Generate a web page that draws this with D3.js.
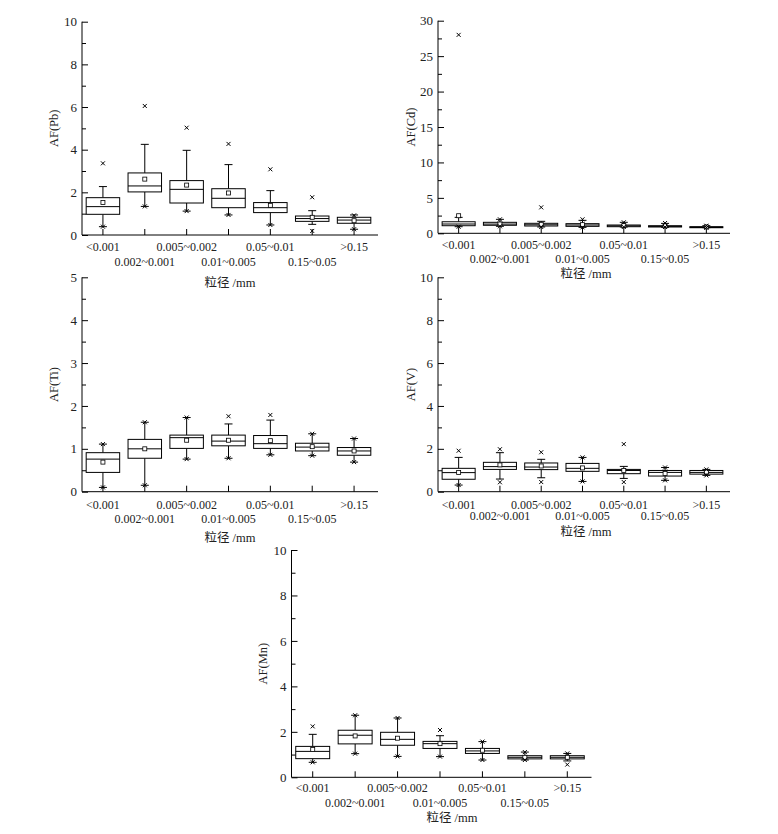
<!DOCTYPE html>
<html>
<head>
<meta charset="utf-8">
<script src="https://cdn.jsdelivr.net/npm/d3@7/dist/d3.min.js"></script>
<style>
  body { margin: 0; background: #fff; }
  svg text { font-family: "Liberation Serif", "Noto Sans CJK SC", serif; fill: #222; }
</style>
</head>
<body>
<div id="chart"></div>
<script>
// size classes on the x axis
var categories = ["<0.001", "0.002~0.001", "0.005~0.002", "0.01~0.005", "0.05~0.01", "0.15~0.05", ">0.15"];
var xTitle = "粒径 /mm";

// box stats per class: [lower whisker, Q1, median, Q3, upper whisker]
var pbStats = [[0.39, 0.97, 1.33, 1.75, 2.27], [1.34, 2.02, 2.30, 2.91, 4.25], [1.12, 1.50, 2.14, 2.55, 3.97],
               [0.94, 1.28, 1.72, 2.17, 3.30], [0.47, 1.05, 1.28, 1.52, 2.08], [0.50, 0.64, 0.77, 0.89, 1.14],
               [0.27, 0.55, 0.70, 0.83, 0.94]];
var pbMean = [1.52, 2.62, 2.34, 1.97, 1.39, 0.83, 0.67];
var pbMarks = [[3.36, 0.39], [6.05, 1.34], [5.03, 1.12], [4.27, 0.94], [3.08, 0.47], [1.77, 0.19], [0.92, 0.27]];

var cdStats = [[0.93, 1.07, 1.31, 1.63, 2.25], [0.99, 1.13, 1.30, 1.55, 1.97], [0.89, 1.03, 1.20, 1.41, 1.69],
               [0.84, 0.98, 1.17, 1.36, 1.83], [0.89, 0.93, 1.05, 1.17, 1.55], [0.85, 0.89, 0.98, 1.07, 1.40],
               [0.79, 0.80, 0.87, 0.93, 1.07]];
var cdMean = [2.48, 1.31, 1.27, 1.22, 1.08, 1.05, 0.90];
var cdMarks = [[28.0, 0.93], [1.97, 0.99], [3.66, 0.89], [1.97, 0.84], [1.55, 0.89], [1.45, 0.89], [1.07, 0.79]];

var tiStats = [[0.10, 0.45, 0.76, 0.91, 1.11], [0.15, 0.78, 1.00, 1.22, 1.62], [0.76, 1.01, 1.26, 1.32, 1.73],
               [0.78, 1.07, 1.18, 1.32, 1.58], [0.86, 1.01, 1.12, 1.31, 1.67], [0.84, 0.95, 1.04, 1.13, 1.35],
               [0.69, 0.85, 0.95, 1.03, 1.24]];
var tiMean = [0.69, 1.00, 1.20, 1.20, 1.19, 1.05, 0.95];
var tiMarks = [[1.11, 0.10], [1.62, 0.15], [1.73, 0.76], [1.76, 0.78], [1.79, 0.86], [1.35, 0.84], [1.24, 0.69]];

var vStats = [[0.31, 0.58, 0.89, 1.09, 1.60], [0.59, 1.04, 1.17, 1.37, 1.82], [0.65, 1.03, 1.15, 1.34, 1.51],
              [0.48, 0.95, 1.09, 1.32, 1.60], [0.62, 0.84, 0.99, 1.04, 1.18], [0.53, 0.73, 0.90, 0.99, 1.13],
              [0.76, 0.82, 0.90, 0.99, 1.04]];
var vMean = [0.90, 1.25, 1.20, 1.11, 0.99, 0.85, 0.92];
var vMarks = [[1.91, 0.31], [1.98, 0.44], [1.84, 0.45], [1.60, 0.48], [2.22, 0.45], [1.13, 0.53], [1.04, 0.76]];

var mnStats = [[0.66, 0.82, 1.14, 1.36, 1.89], [1.04, 1.47, 1.85, 2.07, 2.73], [0.92, 1.41, 1.67, 1.98, 2.61],
               [0.91, 1.27, 1.48, 1.58, 1.83], [0.76, 1.05, 1.16, 1.27, 1.57], [0.76, 0.81, 0.88, 0.95, 1.11],
               [0.72, 0.81, 0.88, 0.95, 1.05]];
var mnMean = [1.22, 1.82, 1.72, 1.48, 1.19, 0.88, 0.88];
var mnMarks = [[2.24, 0.66], [2.73, 1.04], [2.61, 0.92], [2.08, 0.91], [1.57, 0.76], [1.11, 0.76], [1.05, 0.56]];

var svg = d3.select("#chart").append("svg")
    .attr("width", 778)
    .attr("height", 834);

// one panel of box plots
function drawPanel(p) {
  var x = d3.scaleBand().domain(categories).range([p.left, p.right]);
  var y = d3.scaleLinear().domain([0, p.yMax]).range([p.bottom, p.top]);
  var g = svg.append("g");
  var bw = x.bandwidth() * 0.8;

  // y axis, major and minor ticks pointing inward
  var yAxis = d3.axisLeft(y).tickValues(d3.range(0, p.yMax + 0.001, p.major))
      .tickSize(-6).tickPadding(5).tickFormat(d3.format("d"));
  g.append("g").attr("transform", "translate(" + p.left + ",0)").call(yAxis)
    .call(function(a){
      a.select(".domain").remove();
      a.selectAll("text").style("font-size", "13px").style("font-family", "Liberation Serif");
    });
  var minors = d3.range(p.major / 2, p.yMax, p.major);
  g.append("g").attr("transform", "translate(" + p.left + ",0)")
    .call(d3.axisLeft(y).tickValues(minors).tickSize(-4).tickFormat(""))
    .select(".domain").remove();

  // x axis ticks at the class centres
  g.append("g").attr("transform", "translate(0," + p.bottom + ")")
    .call(d3.axisBottom(x).tickSize(-6).tickFormat(""))
    .select(".domain").remove();

  g.append("line").attr("x1", p.left).attr("x2", p.left)
    .attr("y1", y(0)).attr("y2", y(p.yMax)).attr("stroke", "#000");
  g.append("line").attr("x1", p.left).attr("x2", p.right + 3)
    .attr("y1", p.bottom).attr("y2", p.bottom).attr("stroke", "#000");
  g.selectAll(".tick line").attr("stroke", "#000");

  // class labels in two staggered rows
  g.selectAll(".clabel").data(categories).enter().append("text")
    .attr("x", function(d){ return x(d) + x.bandwidth() / 2; })
    .attr("y", function(d, i){ return i % 2 == 0 ? p.row1 : p.row2; })
    .attr("text-anchor", "middle")
    .style("font-size", "12px")
    .text(function(d){ return d; });

  g.append("text").attr("x", p.titleX).attr("y", p.titleY)
    .attr("text-anchor", "middle").style("font-size", "12.5px").text(xTitle);

  g.append("text")
    .attr("transform", "translate(" + p.labelX + "," + (p.top + p.bottom) / 2 + ") rotate(-90)")
    .attr("text-anchor", "middle").style("font-size", "12.5px").text(p.yLabel);

  var boxes = g.selectAll(".box").data(p.stats).enter().append("g")
    .attr("transform", function(d, i){ return "translate(" + (x(categories[i]) + x.bandwidth() / 2) + ",0)"; });

  // whiskers
  boxes.append("line").attr("x1", 0).attr("x2", 0)
    .attr("y1", function(d){ return y(d[0]); }).attr("y2", function(d){ return y(d[1]); })
    .attr("stroke", "#000");
  boxes.append("line").attr("x1", 0).attr("x2", 0)
    .attr("y1", function(d){ return y(d[3]); }).attr("y2", function(d){ return y(d[4]); })
    .attr("stroke", "#000");
  boxes.append("line").attr("x1", -4).attr("x2", 4)
    .attr("y1", function(d){ return y(d[0]); }).attr("y2", function(d){ return y(d[0]); })
    .attr("stroke", "#000");
  boxes.append("line").attr("x1", -4).attr("x2", 4)
    .attr("y1", function(d){ return y(d[4]); }).attr("y2", function(d){ return y(d[4]); })
    .attr("stroke", "#000");

  boxes.append("rect")
    .attr("x", -bw / 2).attr("width", bw)
    .attr("y", function(d){ return y(d[3]); })
    .attr("height", function(d){ return Math.max(y(d[1]) - y(d[3]), 1); })
    .attr("fill", "#fff").attr("stroke", "#000");
  boxes.append("line").attr("x1", -bw / 2).attr("x2", bw / 2)
    .attr("y1", function(d){ return y(d[2]); }).attr("y2", function(d){ return y(d[2]); })
    .attr("stroke", "#000");

  // mean squares
  boxes.append("rect")
    .attr("x", -2).attr("width", 4)
    .attr("y", function(d, i){ return y(p.mean[i]) - 2; }).attr("height", 4)
    .attr("fill", "#fff").attr("stroke", "#000").attr("stroke-width", 0.8);

  // extreme values as small crosses
  boxes.each(function(d, i){
    d3.select(this).selectAll("path").data(p.marks[i]).enter().append("path")
      .attr("d", function(v){
        var yy = y(v);
        return "M-2," + (yy - 2) + "L2," + (yy + 2) + "M-2," + (yy + 2) + "L2," + (yy - 2);
      })
      .attr("stroke", "#000").attr("stroke-width", 1);
  });
}

drawPanel({stats: pbStats, mean: pbMean, marks: pbMarks, yMax: 10, major: 2, yLabel: "AF(Pb)",
  left: 82, right: 375, top: 21.7, bottom: 235, row1: 251, row2: 266, titleX: 230, titleY: 287, labelX: 58});
drawPanel({stats: cdStats, mean: cdMean, marks: cdMarks, yMax: 30, major: 5, yLabel: "AF(Cd)",
  left: 438, right: 727, top: 20.7, bottom: 233.3, row1: 248.5, row2: 262.5, titleX: 586, titleY: 278, labelX: 415});
drawPanel({stats: tiStats, mean: tiMean, marks: tiMarks, yMax: 5, major: 1, yLabel: "AF(Ti)",
  left: 82, right: 375, top: 277.3, bottom: 491.7, row1: 508.5, row2: 522.5, titleX: 230, titleY: 542, labelX: 58});
drawPanel({stats: vStats, mean: vMean, marks: vMarks, yMax: 10, major: 2, yLabel: "AF(V)",
  left: 438, right: 727, top: 277.3, bottom: 491.7, row1: 508.5, row2: 520, titleX: 586, titleY: 536, labelX: 415});
drawPanel({stats: mnStats, mean: mnMean, marks: mnMarks, yMax: 10, major: 2, yLabel: "AF(Mn)",
  left: 291.5, right: 588.5, top: 550, bottom: 777.3, row1: 792, row2: 807, titleX: 452, titleY: 822, labelX: 267});
</script>
</body>
</html>
